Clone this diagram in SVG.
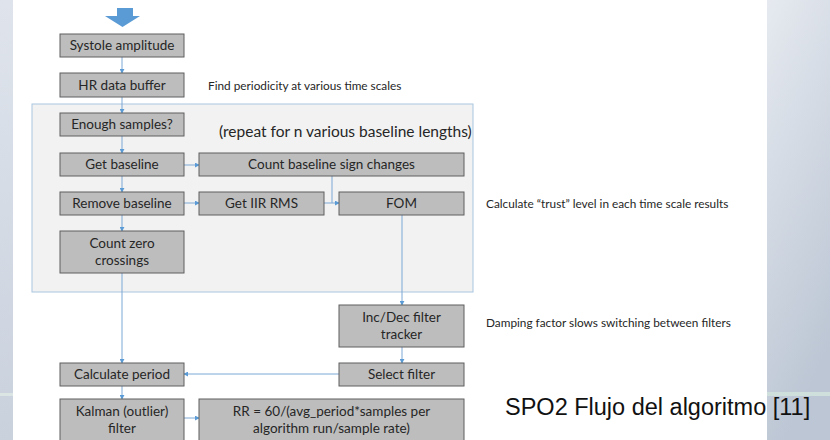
<svg xmlns="http://www.w3.org/2000/svg" width="830" height="440" viewBox="0 0 830 440">
<defs>
<linearGradient id="bgR" x1="0" y1="0" x2="0.3" y2="1">
<stop offset="0" stop-color="#e6eaf0"/>
<stop offset="1" stop-color="#bcc6d4"/>
</linearGradient>
<linearGradient id="bgL" x1="0" y1="0" x2="0" y2="1">
<stop offset="0" stop-color="#dfe4ec"/>
<stop offset="1" stop-color="#c9d1dd"/>
</linearGradient>
<marker id="ah" viewBox="0 0 6 6" refX="5" refY="3" markerWidth="5" markerHeight="5" orient="auto" markerUnits="userSpaceOnUse">
<path d="M0,0 L6,3 L0,6 z" fill="#5b9bd5"/>
</marker>
<style>
.box{fill:#bdbdbd;stroke:#5f5f5f;stroke-width:1}
.bt{font-family:Lato,"Liberation Sans",sans-serif;font-size:13.5px;fill:#262626;text-anchor:middle}
.note{font-family:Lato,"Liberation Sans",sans-serif;font-size:11.8px;fill:#262626}
.c{fill:none;stroke:#7aa8d6;stroke-width:1}
.ca{fill:none;stroke:#7aa8d6;stroke-width:1;marker-end:url(#ah)}
</style>
</defs>
<rect width="830" height="440" fill="#ffffff"/>
<rect x="0" y="0" width="13" height="440" fill="url(#bgL)"/>
<rect x="767" y="0" width="63" height="440" fill="url(#bgR)"/>
<rect x="767" y="392" width="63" height="4" fill="#cfe0dc"/>
<rect x="0" y="393" width="13" height="3" fill="#dbe5e4"/>

<g id="container">
<rect x="32" y="104" width="441" height="188" fill="#f2f2f2" stroke="#a9c6e0" stroke-width="1"/>
<text x="219" y="137" font-family="Lato,'Liberation Sans',sans-serif" font-size="15.5px" fill="#262626">(repeat for n various baseline lengths)</text>
</g>

<g id="start-arrow">
<path d="M117,8 H133 V16 H140 L122.5,27 L105,16 H117 Z" fill="#5b9bd5"/>
</g>

<g id="connectors">
<path class="ca" d="M122,57 V73"/>
<path class="ca" d="M122,97 V113"/>
<path class="ca" d="M122,136 V153"/>
<path class="ca" d="M122,176 V192"/>
<path class="ca" d="M122,215 V231"/>
<path class="ca" d="M122,273 V363"/>
<path class="ca" d="M122,386 V399"/>
<path class="ca" d="M184,165 H199"/>
<path class="ca" d="M184,203 H199"/>
<path class="ca" d="M324,203 H339"/>
<path class="c" d="M332,176 V203"/>
<path class="ca" d="M402,215 V305"/>
<path class="ca" d="M402,347 V363"/>
<path class="ca" d="M339,374 H184"/>
<path class="ca" d="M184,418 H199"/>
</g>

<g id="systole"><rect class="box" x="60" y="34" width="124" height="23"/><text class="bt" x="122" y="50">Systole amplitude</text></g>
<g id="hrbuffer"><rect class="box" x="60" y="73" width="124" height="24"/><text class="bt" x="122" y="89.5">HR data buffer</text></g>
<g id="enough"><rect class="box" x="60" y="113" width="124" height="23"/><text class="bt" x="122" y="129">Enough samples?</text></g>
<g id="getbaseline"><rect class="box" x="60" y="153" width="124" height="23"/><text class="bt" x="122" y="169">Get baseline</text></g>
<g id="countsign"><rect class="box" x="199" y="153" width="265" height="23"/><text class="bt" x="331.5" y="169">Count baseline sign changes</text></g>
<g id="removebaseline"><rect class="box" x="60" y="192" width="124" height="23"/><text class="bt" x="122" y="208">Remove baseline</text></g>
<g id="iirrms"><rect class="box" x="199" y="192" width="125" height="23"/><text class="bt" x="261.5" y="208">Get IIR RMS</text></g>
<g id="fom"><rect class="box" x="339" y="192" width="125" height="23"/><text class="bt" x="401.5" y="208">FOM</text></g>
<g id="zerocross"><rect class="box" x="60" y="231" width="124" height="42"/><text class="bt" x="122" y="248">Count zero</text><text class="bt" x="122" y="265">crossings</text></g>
<g id="incdec"><rect class="box" x="339" y="305" width="125" height="42"/><text class="bt" x="401.5" y="322">Inc/Dec filter</text><text class="bt" x="401.5" y="339">tracker</text></g>
<g id="selectfilter"><rect class="box" x="339" y="363" width="125" height="23"/><text class="bt" x="401.5" y="379">Select filter</text></g>
<g id="calcperiod"><rect class="box" x="60" y="363" width="124" height="23"/><text class="bt" x="122" y="379">Calculate period</text></g>
<g id="kalman"><rect class="box" x="60" y="399" width="124" height="42"/><text class="bt" x="122" y="416">Kalman (outlier)</text><text class="bt" x="122" y="433">filter</text></g>
<g id="rr"><rect class="box" x="199" y="399" width="265" height="42"/><text class="bt" x="331.5" y="416">RR = 60/(avg_period*samples per</text><text class="bt" x="331.5" y="433">algorithm run/sample rate)</text></g>

<g id="notes">
<text class="note" x="208" y="90">Find periodicity at various time scales</text>
<text class="note" x="486" y="208">Calculate “trust” level in each time scale results</text>
<text class="note" x="486" y="327">Damping factor slows switching between filters</text>
<text x="505" y="415" font-family="'Liberation Sans',Arial,sans-serif" font-size="23.5px" fill="#111111">SPO2 Flujo del algoritmo [11]</text>
</g>
</svg>
